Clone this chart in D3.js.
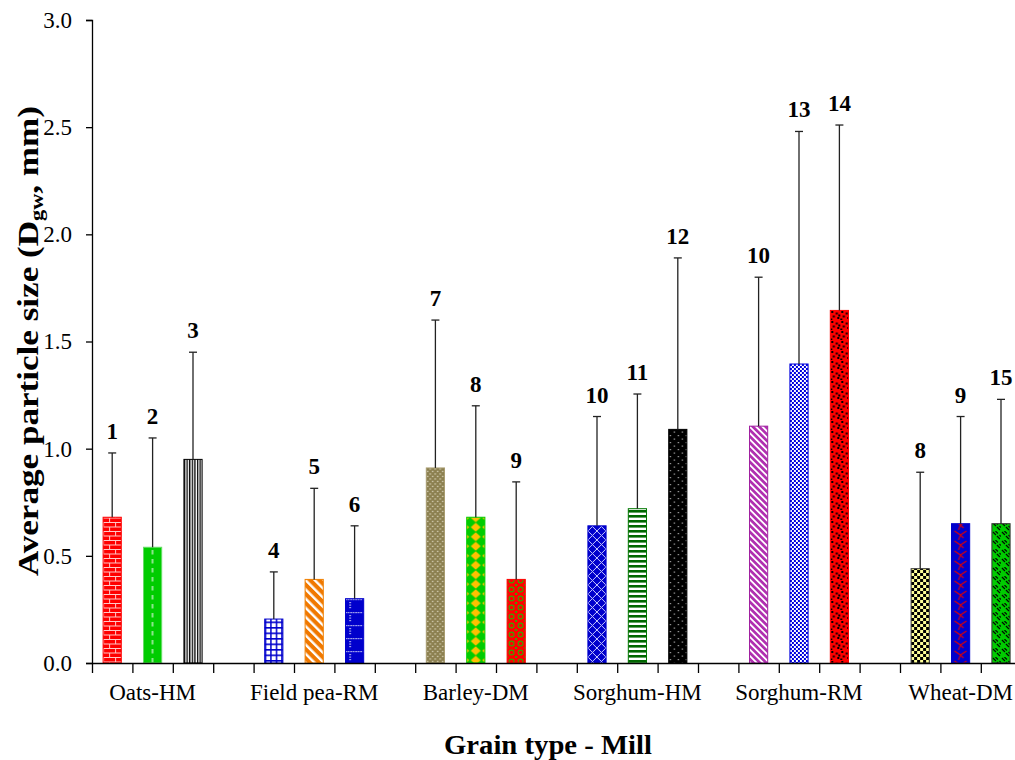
<!DOCTYPE html>
<html>
<head>
<meta charset="utf-8">
<script src="https://cdn.jsdelivr.net/npm/d3@7"></script>
<style>
  body { margin: 0; background: #fff; }
  svg { display: block; }
  svg text { font-family: "Liberation Serif", "Times New Roman", serif; }
</style>
</head>
<body>
<div id="mywrap"></div>
<script>
const groups = ["Oats-HM", "Field pea-RM", "Barley-DM", "Sorghum-HM", "Sorghum-RM", "Wheat-DM"]
const barLabels = ["1","2","3", "4","5","6", "7","8","9", "10","11","12", "10","13","14", "8","9","15"]
const means  = [0.68, 0.54, 0.95,  0.205, 0.39, 0.30,  0.91, 0.68, 0.39,  0.64, 0.72, 1.09,  1.105, 1.395, 1.645,  0.44, 0.65, 0.65]
const errTop = [0.98, 1.05, 1.45,  0.425, 0.815, 0.64,  1.60, 1.20, 0.845,  1.15, 1.255, 1.89,  1.80, 2.48, 2.51,  0.89, 1.15, 1.23]
const yTicks = [0, 0.5, 1.0, 1.5, 2.0, 2.5, 3.0]

const sWidth = 1015, sHeight = 760
const margin = {top: 20, left: 92, bottom: 97}
const slotW = 40.4
const nSlots = groups.length * 4 - 1
const serif = "Liberation Serif"

let svg = d3.select("#mywrap").append("svg")
    .attr("width", sWidth)
    .attr("height", sHeight)

let xScale = d3.scaleBand()
    .domain(d3.range(nSlots))
    .range([margin.left, margin.left + nSlots * slotW])
    .paddingInner(0.55)
    .paddingOuter(0.275)

let yScale = d3.scaleLinear()
    .domain([0, 3])
    .range([sHeight - margin.bottom, margin.top])

const slotOf = i => Math.floor(i / 3) * 4 + (i % 3)

// pattern painters, one per bar (style only)
const rect = (p, w, h, c) => p.append("rect").attr("width", w).attr("height", h).attr("fill", c)
const pth = (p, d, c, sw) => p.append("path").attr("d", d).attr("stroke", c).attr("stroke-width", sw).attr("fill", "none")
const sq = (p, pts, s, c) => pts.forEach(([a, b]) => p.append("rect").attr("x", a).attr("y", b).attr("width", s).attr("height", s).attr("fill", c))

const styles = [
  {w: 12, h: 9, stroke: "#ff0000", draw: p => { rect(p, 12, 9, "#ff0000"); pth(p, "M0,0.5H12M0,5H12M0.5,0V5M6.5,5V9", "#ffc8c8", 1) }},
  {w: 18, h: 9, stroke: "#66dd66", draw: p => { rect(p, 18, 9, "#00cc00"); pth(p, "M9,1V5.5", "#c8f0c8", 1.4) }},
  {w: 2.6, h: 4, stroke: "#000", draw: p => { rect(p, 2.6, 4, "#fff"); rect(p, 1.3, 4, "#000") }},
  {w: 5.5, h: 5.5, stroke: "#0000cc", draw: p => { rect(p, 5.5, 5.5, "#fff"); pth(p, "M0,0.75H5.5M0.75,0V5.5", "#0000cc", 1.5) }},
  {w: 6.5, h: 6.5, stroke: "#f08000", rot: -45, draw: p => { rect(p, 6.5, 6.5, "#f07800"); rect(p, 2.4, 6.5, "#fff") }},
  {w: 18, h: 13, stroke: "#0000cc", draw: p => { rect(p, 18, 13, "#0000cc"); sq(p, [[0,1],[2.5,1],[5,1],[7.5,1],[10,1],[12.5,1],[15,1],[4,4],[4,6.5],[4,9]], 1.2, "#fff") }},
  {w: 5, h: 5, stroke: "#a89c70", draw: p => { rect(p, 5, 5, "#8c8050"); sq(p, [[0.8,0.8],[3.3,3.3]], 1.3, "#ddd8c0") }},
  {w: 18, h: 9.5, stroke: "#00cc00", draw: p => { rect(p, 18, 9.5, "#00cc00");
      p.append("path").attr("d", "M9,0.3L14,4.75L9,9.2L4,4.75Z M0,2.5L2.5,4.75L0,7Z M18,2.5L15.5,4.75L18,7Z").attr("fill", "#ffc000") }},
  {w: 9, h: 9, stroke: "#ff0000", draw: p => { rect(p, 9, 9, "#ff0000");
      p.append("circle").attr("cx", 4.5).attr("cy", 4.5).attr("r", 2.4).attr("fill", "none").attr("stroke", "#33aa00").attr("stroke-width", 1.1);
      sq(p, [[0,0],[8,0],[0,8],[8,8]], 1, "#33aa00") }},
  {w: 9, h: 9, stroke: "#0000cc", draw: p => { rect(p, 9, 9, "#0000cc"); pth(p, "M0,0L9,9M9,0L0,9", "#c8c8ff", 1) }},
  {w: 5, h: 5, stroke: "#007700", draw: p => { rect(p, 5, 5, "#fff"); rect(p, 5, 2.6, "#006600") }},
  {w: 8, h: 7, stroke: "#000", draw: p => { rect(p, 8, 7, "#000"); sq(p, [[1,1],[5,4.5]], 1.2, "#bbb") }},
  {w: 4.5, h: 4.5, stroke: "#a020a0", rot: -45, draw: p => { rect(p, 4.5, 4.5, "#b030b0"); rect(p, 1.8, 4.5, "#fff") }},
  {w: 4, h: 4, stroke: "#0000dd", draw: p => { rect(p, 4, 4, "#fff"); sq(p, [[0,0],[2,2]], 2, "#0000dd") }},
  {w: 10, h: 10, stroke: "#ff0000", draw: p => { rect(p, 10, 10, "#ff0000"); sq(p, [[1,1],[5.5,2.5],[2.5,5.5],[7,7],[0,8.5],[8,4.5]], 2, "#000") }},
  {w: 6, h: 6, stroke: "#333", draw: p => { rect(p, 6, 6, "#ffff99"); sq(p, [[0,0],[3,3]], 3, "#000") }},
  {w: 18, h: 10, stroke: "#0000cc", draw: p => { rect(p, 18, 10, "#0000cc"); pth(p, "M3,1L9,5L15,1M9,5L7,10M9,5L12,8", "#dd0000", 1.1) }},
  {w: 9, h: 9, stroke: "#333", draw: p => { rect(p, 9, 9, "#00cc00"); pth(p, "M1,1L4,4M3.5,0L6,2.5M5,5L8,8M7.5,4L9,5.5", "#000", 1.1) }}
]

let defs = svg.append("defs")
styles.forEach((s, i) => {
    let p = defs.append("pattern")
        .attr("id", "pat" + i)
        .attr("patternUnits", "userSpaceOnUse")
        .attr("x", xScale(slotOf(i)))
        .attr("y", 0)
        .attr("width", s.w)
        .attr("height", s.h)
    if (s.rot) p.attr("patternTransform", `rotate(${s.rot})`)
    s.draw(p)
})

/// render

// bars
svg.selectAll("rect.bar")
    .data(means)
    .enter()
    .append("rect")
    .attr("class", "bar")
    .attr("x", (d, i) => xScale(slotOf(i)))
    .attr("width", xScale.bandwidth())
    .attr("y", d => yScale(d))
    .attr("height", d => yScale(0) - yScale(d))
    .attr("fill", (d, i) => `url(#pat${i})`)
    .attr("stroke", (d, i) => styles[i].stroke)
    .attr("stroke-width", 1)

// error bars
let eb = svg.append("g").attr("stroke", "#222").attr("stroke-width", 1.3)
errTop.forEach((e, i) => {
    let cx = xScale(slotOf(i)) + xScale.bandwidth() / 2
    eb.append("line").attr("x1", cx).attr("x2", cx).attr("y1", yScale(means[i])).attr("y2", yScale(e))
    eb.append("line").attr("x1", cx - 4).attr("x2", cx + 4).attr("y1", yScale(e)).attr("y2", yScale(e))
})

// numbers above bars
svg.selectAll("text.num")
    .data(barLabels)
    .enter()
    .append("text")
    .attr("class", "num")
    .attr("x", (d, i) => xScale(slotOf(i)) + xScale.bandwidth() / 2)
    .attr("y", (d, i) => yScale(errTop[i]) - 14)
    .attr("text-anchor", "middle")
    .attr("font-family", serif)
    .attr("font-weight", 700)
    .attr("font-size", 23)
    .text(d => d)

// y axis
let yAxis = d3.axisLeft(yScale)
    .tickValues(yTicks)
    .tickFormat(d3.format(".1f"))
    .tickSize(6)
    .tickPadding(14)

let gy = svg.append("g")
    .attr("transform", `translate(${margin.left},0)`)
    .call(yAxis)
gy.attr("font-family", serif)
gy.selectAll("text").attr("font-size", 23).attr("fill", "#000")
gy.selectAll("line, path").attr("stroke", "#000").attr("stroke-width", 1.3)

// x axis with ticks between slots
let xTickScale = d3.scaleLinear()
    .domain([0, nSlots])
    .range([margin.left, margin.left + nSlots * slotW])

let xAxis = d3.axisBottom(xTickScale)
    .tickValues(d3.range(nSlots + 1))
    .tickFormat("")
    .tickSize(10)
    .tickSizeOuter(0)

let gx = svg.append("g")
    .attr("transform", `translate(0,${yScale(0)})`)
    .call(xAxis)
gx.selectAll("line, path").attr("stroke", "#000").attr("stroke-width", 1.3)

// group labels
svg.selectAll("text.grp")
    .data(groups)
    .enter()
    .append("text")
    .attr("class", "grp")
    .attr("x", (d, g) => xScale(g * 4 + 1) + xScale.bandwidth() / 2)
    .attr("y", yScale(0) + 37)
    .attr("text-anchor", "middle")
    .attr("font-family", serif)
    .attr("font-size", 23)
    .text(d => d)

// axis titles
svg.append("text")
    .attr("x", 548)
    .attr("y", 754)
    .attr("text-anchor", "middle")
    .attr("font-family", serif)
    .attr("font-weight", 700)
    .attr("font-size", 28)
    .attr("textLength", 208)
    .attr("lengthAdjust", "spacingAndGlyphs")
    .text("Grain type - Mill")

let yt = svg.append("text")
    .attr("transform", "translate(38,341) rotate(-90)")
    .attr("text-anchor", "middle")
    .attr("font-family", serif)
    .attr("font-weight", 700)
    .attr("font-size", 30)
    .attr("textLength", 470)
    .attr("lengthAdjust", "spacingAndGlyphs")
yt.append("tspan").text("Average particle size (D")
yt.append("tspan").attr("font-size", 19).attr("dy", 5).text("gw")
yt.append("tspan").attr("dy", -5).text(", mm)")
</script>
</body>
</html>
